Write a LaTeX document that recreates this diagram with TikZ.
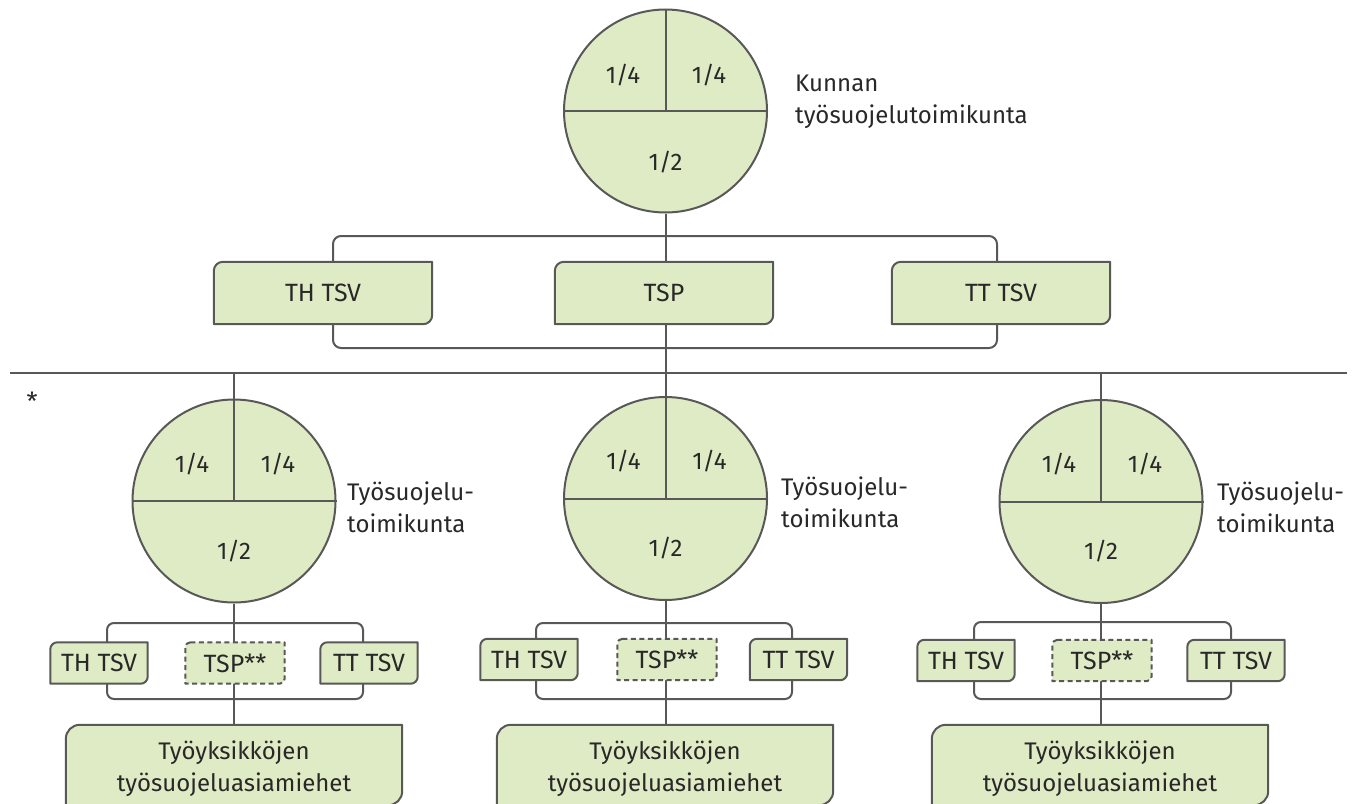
\documentclass[tikz,border=0pt]{standalone}
\usepackage{fontspec}
\setmainfont{Fira Sans}
\definecolor{lc}{RGB}{88,88,88}
\definecolor{gf}{RGB}{223,235,196}
\definecolor{tc}{RGB}{40,40,40}
\pgfdeclarelayer{bg}
\pgfdeclarelayer{mid}
\pgfsetlayers{bg,mid,main}
\newcommand\gbox[3]{%
  \draw[boxline,#3] ([xshift=#2]#1.north west) -- (#1.north east) -- ([yshift=#2]#1.south east)
    .. controls ([yshift=0.45*#2]#1.south east) and ([xshift=-0.45*#2]#1.south east) .. ([xshift=-#2]#1.south east)
    -- (#1.south west) -- ([yshift=-#2]#1.north west)
    .. controls ([yshift=-0.45*#2]#1.north west) and ([xshift=0.45*#2]#1.north west) .. cycle;}
\tikzset{
  conn/.style={draw=lc, line width=2pt},
  boxline/.style={draw=lc, fill=gf, line width=2pt, line join=round},
  circ/.style={circle, draw=lc, fill=gf, line width=2pt, minimum size=203pt, inner sep=0pt},
  txt/.style={text=tc, inner sep=0pt, font=\fontsize{24}{32}\selectfont},
  btxt/.style={text=tc, inner sep=0pt, font=\fontsize{25}{32}\selectfont},
  topbox/.style={btxt, minimum width=218pt, minimum height=62pt},
  smallbox/.style={btxt, minimum width=97pt, minimum height=41pt},
  dashbox/.style={btxt, minimum width=99pt, minimum height=41pt},
  bigbox/.style={inner sep=0pt, minimum width=336pt, minimum height=80pt},
  side/.style={txt, anchor=west, align=left},
}
\begin{document}
\begin{tikzpicture}[x=1pt, y=-1pt]
\useasboundingbox (0,0) rectangle (1356,803);
\begin{pgfonlayer}{bg}
\fill[white] (0,0) rectangle (1356,803);
\end{pgfonlayer}

% ---- top level
\node[circ] (c0) at (665.5,111) {};
\draw[conn] (c0.west) -- (c0.east);
\draw[conn] (c0.north) -- (c0.center);
\node[txt] (c0a) at (623,75) {1/4};
\node[txt] (c0b) at (709,75) {1/4};
\node[txt] (c0c) at (665.5,162) {1/2};
\node[side] (l0) at (795,102) {Kunnan\\työsuojelutoimikunta};

\node[topbox] (t1) at (323,293) {TH TSV};
\node[topbox] (t2) at (664,293) {TSP};
\node[topbox] (t3) at (1001,293) {TT TSV};

\coordinate (b0a) at (333,236);
\coordinate (b0b) at (997,348);
\coordinate (hl) at (10,373);
\coordinate (hr) at (1347,373);
\node[btxt, anchor=north] (ast) at (32,392) {*};

% ---- lower circles
\node[circ] (c1) at (234,501) {};
\node[circ] (c2) at (665.5,498.5) {};
\node[circ] (c3) at (1101,501.5) {};
\foreach \c in {c1,c2,c3}{
  \draw[conn] (\c.west) -- (\c.east);
  \draw[conn] (\c.north) -- (\c.center);
  \node[txt] (\c a) at ([xshift=-42pt,yshift=37pt]\c.center) {1/4};
  \node[txt] (\c b) at ([xshift=44pt,yshift=37pt]\c.center) {1/4};
  \node[txt] (\c c) at ([yshift=-50pt]\c.center) {1/2};
}
\node[side] (l1) at (347,507) {Työsuojelu-\\toimikunta};
\node[side] (l2) at (781,502) {Työsuojelu-\\toimikunta};
\node[side] (l3) at (1217,507) {Työsuojelu-\\toimikunta};

% ---- small boxes
\node[smallbox] (s1a) at (99,663) {TH TSV};
\node[dashbox]  (s1b) at (235,663) {TSP**};
\node[smallbox] (s1c) at (369,663) {TT TSV};
\node[smallbox] (s2a) at (529,659.5) {TH TSV};
\node[dashbox]  (s2b) at (667,659.5) {TSP**};
\node[smallbox] (s2c) at (798.5,659.5) {TT TSV};
\node[smallbox] (s3a) at (966,660.5) {TH TSV};
\node[dashbox]  (s3b) at (1102,660.5) {TSP**};
\node[smallbox] (s3c) at (1236,660.5) {TT TSV};

\coordinate (b1a) at (107,623); \coordinate (b1b) at (363,699);
\coordinate (b2a) at (536,623); \coordinate (b2b) at (792,699);
\coordinate (b3a) at (974,622); \coordinate (b3b) at (1231,699);

% ---- big boxes
\node[bigbox] (g1) at (234,765) {};
\node[bigbox] (g2) at (665,765) {};
\node[bigbox] (g3) at (1100,765) {};
\foreach \g in {g1,g2,g3}{
  \node[txt, align=center] (\g t) at ([yshift=-4pt]\g.center) {Työyksikköjen\\työsuojeluasiamiehet};
}

% ---- connectors
\begin{pgfonlayer}{bg}
\draw[conn] (c0.south) -- (c2.north);
\draw[conn, rounded corners=8pt] (b0a) rectangle (b0b);
\draw[conn] (hl) -- (hr);
\draw[conn] (c1.north |- hl) -- (c1.north);
\draw[conn] (c3.north |- hl) -- (c3.north);
\draw[conn] (c1.south) -- (g1.north -| c1.south);
\draw[conn] (c2.south) -- (g2.north -| c2.south);
\draw[conn] (c3.south) -- (g3.north -| c3.south);
\draw[conn, rounded corners=7pt] (b1a) rectangle (b1b);
\draw[conn, rounded corners=7pt] (b2a) rectangle (b2b);
\draw[conn, rounded corners=7pt] (b3a) rectangle (b3b);
\end{pgfonlayer}

% ---- box shapes
\begin{pgfonlayer}{mid}
\gbox{t1}{9pt}{}
\gbox{t2}{9pt}{}
\gbox{t3}{9pt}{}
\foreach \s in {s1a,s1c,s2a,s2c,s3a,s3c}{\gbox{\s}{7pt}{}}
\foreach \s in {s1b,s2b,s3b}{\gbox{\s}{5pt}{dash pattern=on 5pt off 3.5pt}}
\foreach \g in {g1,g2,g3}{\gbox{\g}{14pt}{}}
\end{pgfonlayer}
\end{tikzpicture}
\end{document}
